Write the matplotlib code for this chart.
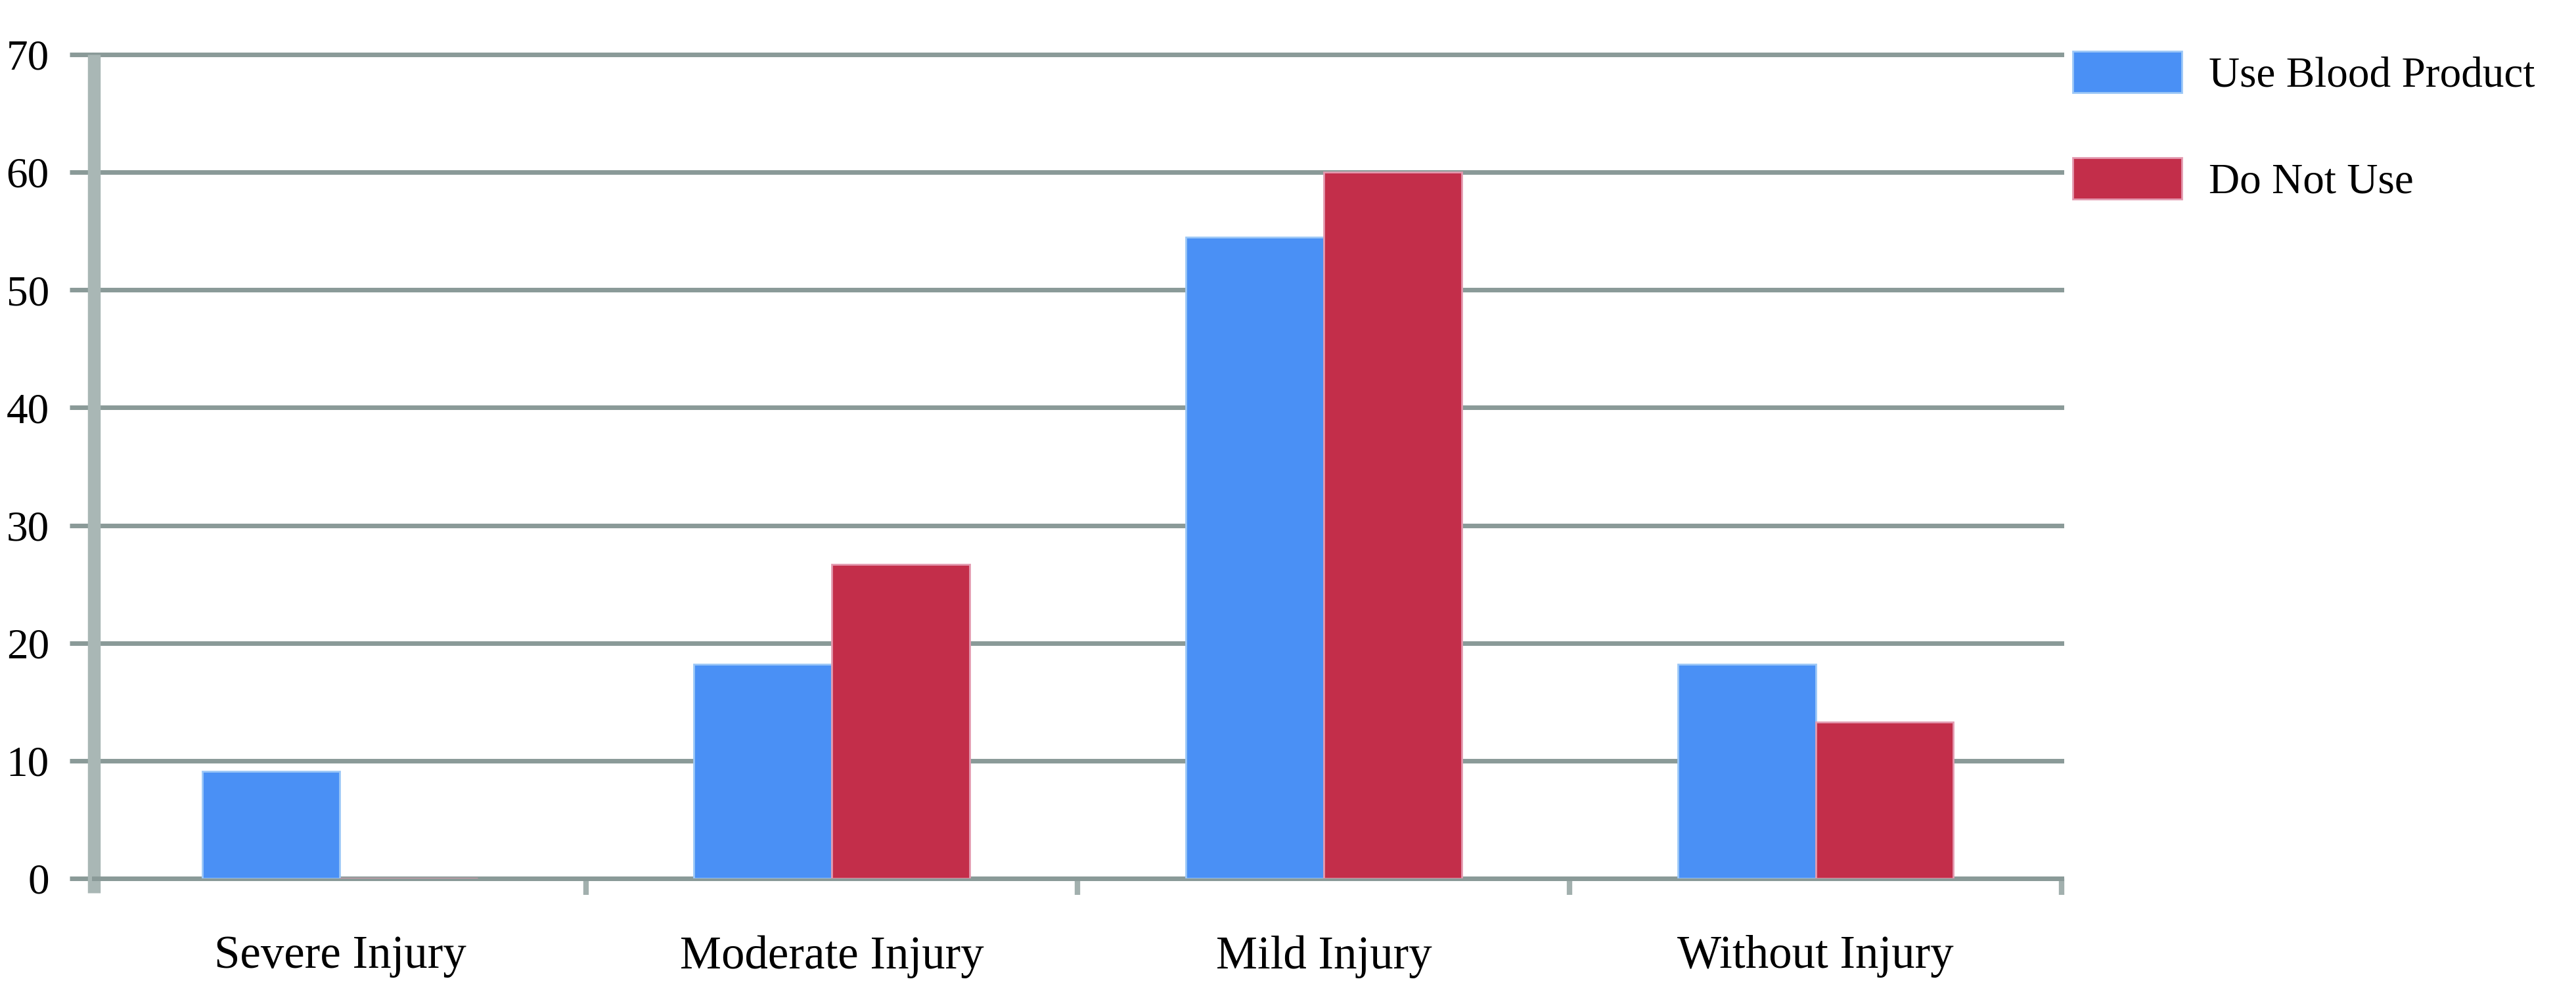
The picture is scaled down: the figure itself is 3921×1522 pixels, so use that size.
import numpy as np
import matplotlib
matplotlib.use("Agg")
import matplotlib.pyplot as plt

# data (percent)
categories = ["Severe Injury", "Moderate Injury", "Mild Injury", "Without Injury"]
use_blood = [9.1, 18.2, 54.5, 18.2]
do_not_use = [0, 26.7, 60.0, 13.3]
series_names = ["Use Blood Product", "Do Not Use"]
y_ticks = [0, 10, 20, 30, 40, 50, 60, 70]

blue = "#4A90F5"
red = "#C32E4A"
grid_col = "#8a9a98"

plt.rcParams["font.family"] = ["Liberation Serif", "DejaVu Serif"]

fig = plt.figure(figsize=(39.21, 15.22), dpi=100)
ax = fig.add_axes([143/3921, 1 - 1337/1522, (3138 - 143)/3921, (1337 - 83)/1522])

x = np.arange(len(categories))
w = 0.28
ax.bar(x - w/2, use_blood, w, color=blue, edgecolor="#9cc8f7", linewidth=2,
       label=series_names[0], zorder=3)
ax.bar(x + w/2, do_not_use, w, color=red, edgecolor="#e39ab0", linewidth=2,
       label=series_names[1], zorder=3)

ax.set_xlim(-0.5, len(categories) - 0.5)
ax.set_ylim(0, 70)
ax.set_yticks(y_ticks)
ax.set_yticklabels([str(t) for t in y_ticks], fontsize=47)
ax.yaxis.grid(True, color=grid_col, linewidth=5)
for gl in ax.get_ygridlines():
    gl.set_clip_on(False)
ax.set_axisbelow(True)
ax.tick_params(axis="y", length=27, width=5, color=grid_col, pad=22)

ax.set_xticks(x)
ax.set_xticklabels(categories, fontsize=51)
ax.tick_params(axis="x", which="major", length=0, pad=62)
ax.set_xticks(np.arange(0.5, len(categories)), minor=True)
ax.tick_params(axis="x", which="minor", length=18, width=6, color="#a2b0ae")

for s in ["top", "right"]:
    ax.spines[s].set_visible(False)
ax.spines["bottom"].set_color(grid_col)
ax.spines["bottom"].set_linewidth(5)
ax.spines["left"].set_color("#a9b7b5")
ax.spines["left"].set_linewidth(14)
ax.spines["left"].set_bounds(-1.25, 70)
ax.spines["left"].set_capstyle("butt")

fig.legend(loc="upper left", bbox_to_anchor=(3155/3921, 1 - 78/1522),
           frameon=False, fontsize=47, handlelength=2.55, handleheight=1.1,
           handletextpad=0.62, labelspacing=1.45, borderpad=0, borderaxespad=0)

fig.savefig("out.png", dpi=100, facecolor="white")
